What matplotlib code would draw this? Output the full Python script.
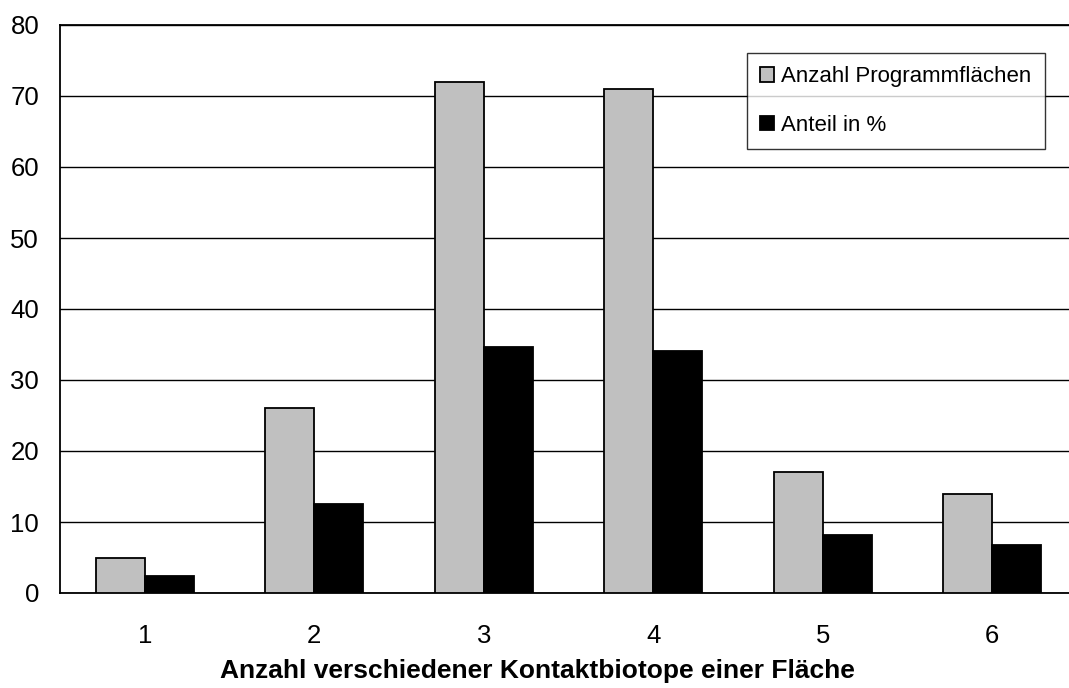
import matplotlib
matplotlib.use('Agg')
import matplotlib.pyplot as plt
import numpy as np

# Programmflaechen nach Anzahl der Kontaktbiotope
kategorien = ['1', '2', '3', '4', '5', '6']
anzahl = [5, 26, 72, 71, 17, 14]
anteil = [2.4, 12.5, 34.6, 34.1, 8.2, 6.7]

plt.rcParams['font.family'] = ['Liberation Sans', 'DejaVu Sans']

fig = plt.figure(figsize=(10.69, 6.88), dpi=100)
ax = fig.add_axes([60 / 1069, 1 - 593 / 688, 1017 / 1069, 568 / 688])

x = np.arange(1, len(kategorien) + 1)
b = 0.29
ax.bar(x - b / 2, anzahl, b, color='#c0c0c0', edgecolor='black', linewidth=1.3,
       label='Anzahl Programmflächen', zorder=3)
ax.bar(x + b / 2, anteil, b, color='black', edgecolor='black', linewidth=1.3,
       label='Anteil in %', zorder=3)

ax.set_xlim(0.5, 6.5)
ax.set_ylim(0, 80)
ax.set_yticks(range(0, 81, 10))
ax.set_xticks(x)
ax.set_xticklabels(kategorien)
ax.yaxis.grid(True, color='black', linewidth=1.0, zorder=0)
ax.tick_params(axis='both', length=0, labelsize=18.5)
ax.tick_params(axis='x', pad=22)
ax.tick_params(axis='y', pad=15)
ax.spines['right'].set_visible(False)
for s in ['left', 'top', 'bottom']:
    ax.spines[s].set_linewidth(1.3)

ax.set_xlabel('Anzahl verschiedener Kontaktbiotope einer Fläche', fontsize=19,
              fontweight='bold', labelpad=8)
ax.xaxis.label.set_x(0.469)

leg = ax.legend(loc='upper left', bbox_to_anchor=(687 / 1017, 1 - 28 / 568),
                fontsize=16, frameon=True, fancybox=False, handlelength=0.6,
                handleheight=0.6, handletextpad=0.35, labelspacing=1.25,
                borderpad=0.6, borderaxespad=0)
leg.get_frame().set_edgecolor('black')
leg.get_frame().set_linewidth(1.0)

fig.savefig('out.png', dpi=100)
